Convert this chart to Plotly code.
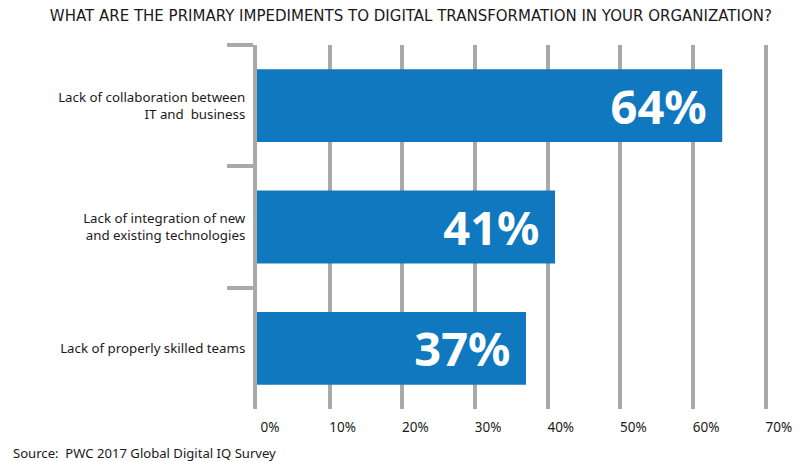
import plotly.graph_objects as go

categories = ["Lack of collaboration between<br>IT and  business",
              "Lack of integration of new<br>and existing technologies",
              "Lack of properly skilled teams"]
values = [64, 41, 37]
labels = ["64%", "41%", "37%"]
tick_vals = [0, 10, 20, 30, 40, 50, 60, 70]
tick_text = ["0%", "10%", "20%", "30%", "40%", "50%", "60%", "70%"]

FONT = "Noto Sans"
GRAY = "#a9a9a9"
BLUE = "#1078bf"
TXT = "#1a1a1a"

fig = go.Figure(go.Bar(
    y=categories, x=values, orientation="h",
    marker=dict(color=BLUE, line=dict(width=0)),
    width=0.6,
    text=[l + "\u2009\u200a" for l in labels],
    textposition="inside", insidetextanchor="end",
    constraintext="none",
    textfont=dict(family=FONT, size=47, color="white", weight="bold"),
    hoverinfo="skip",
))

fig.update_layout(
    width=812, height=461,
    margin=dict(l=257, r=44, t=45, b=52),
    paper_bgcolor="white", plot_bgcolor="white",
    showlegend=False,
    font=dict(family=FONT, size=13, color=TXT),
    title=dict(text="WHAT ARE THE PRIMARY IMPEDIMENTS TO DIGITAL TRANSFORMATION IN YOUR ORGANIZATION?",
               x=0.506, xanchor="center", y=0.965, yanchor="middle",
               font=dict(family="DejaVu Sans", size=15, color=TXT)),
    bargap=0.4,
)

fig.update_xaxes(
    range=[0, 70.3], tickvals=tick_vals, ticktext=tick_text,
    showgrid=True, gridcolor=GRAY, gridwidth=4, zeroline=False,
    showline=False, ticks="", ticklabelshift=13, ticklabelstandoff=8,
    tickfont=dict(family=FONT, size=13.5, color=TXT),
    fixedrange=True,
)
fig.update_yaxes(
    autorange="reversed", showline=True, linecolor=GRAY, linewidth=4,
    ticks="outside", tickson="boundaries", ticklen=26, tickwidth=4, tickcolor=GRAY,
    ticklabelstandoff=5, showgrid=False,
    tickfont=dict(family=FONT, size=13.3, color=TXT),
    fixedrange=True,
)

fig.add_annotation(text="Source:  PWC 2017 Global Digital IQ Survey", xref="paper", yref="paper",
                   x=-257/511, xanchor="left", y=-52/364, yanchor="bottom", yshift=-3,
                   xshift=11, showarrow=False, font=dict(family=FONT, size=13.1, color=TXT))

fig.write_html("out.html")
